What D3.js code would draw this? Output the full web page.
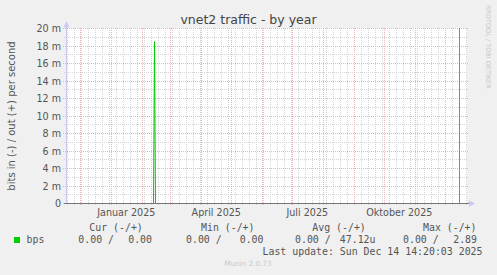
<!DOCTYPE html>
<html>
<head>
<meta charset="utf-8">
<script src="https://cdn.jsdelivr.net/npm/d3@7"></script>
<style>
  body { margin: 0; background: #f0f0f0; }
  svg { display: block; }
  text { white-space: pre; }
</style>
</head>
<body>
<div id="chart"></div>
<script>
// chart values
var yTicks = [0, 2, 4, 6, 8, 10, 12, 14, 16, 18, 20];          // in milli bits/s
var yTickLabels = ["0", "2 m", "4 m", "6 m", "8 m", "10 m", "12 m", "14 m", "16 m", "18 m", "20 m"];
var quarterDates = ["2025-01-01", "2025-04-01", "2025-07-01", "2025-10-01"];
var quarterLabels = ["Januar 2025", "April 2025", "Juli 2025", "Oktober 2025"];
var outDates = ["2025-02-12T05:00", "2025-02-13T05:00", "2025-02-14T05:00"];
var outValues = [0, 18.5, 0];                                   // milli bits/s
var nowDate = "2025-12-14T23:00";
var legendHeads = ["Cur (-/+)", "Min (-/+)", "Avg (-/+)", "Max (-/+)"];
var legendIn = ["0.00 /", "0.00 /", "0.00 /", "0.00 /"];
var legendOut = ["0.00", "0.00", "47.12u", "2.89"];

var W = 497, H = 275;
var parse = d3.utcParse("%Y-%m-%dT%H:%M");
var parseDay = d3.utcParse("%Y-%m-%d");

var svg = d3.select("#chart").append("svg")
  .attr("width", W).attr("height", H);

svg.append("rect").attr("width", W).attr("height", H).attr("fill", "#f0f0f0");

var x = d3.scaleUtc()
  .domain([parse("2024-11-17T17:00"), parse("2025-12-22T17:00")])
  .range([67, 467]);
var y = d3.scaleLinear().domain([0, 20]).range([203.5, 28.5]);

function px(v) { return Math.floor(v) + 0.5; }

// plot background
svg.append("rect")
  .attr("x", 67).attr("y", 28)
  .attr("width", 400).attr("height", 175)
  .attr("fill", "#ffffff");

var grid = svg.append("g");

// minor vertical grid (weekly)
var weeks = d3.utcMonday.range(x.domain()[0], x.domain()[1]);
grid.selectAll(".vminor")
  .data(weeks)
  .enter().append("line")
  .attr("x1", function(d) { return px(x(d)); })
  .attr("x2", function(d) { return px(x(d)); })
  .attr("y1", 28).attr("y2", 205)
  .attr("stroke", "#d4d4d4")
  .attr("stroke-dasharray", "1,1");

// minor horizontal grid (1 m)
grid.selectAll(".hminor")
  .data(d3.range(1, 20, 2))
  .enter().append("line")
  .attr("x1", 64).attr("x2", 467)
  .attr("y1", function(d) { return px(y(d)); })
  .attr("y2", function(d) { return px(y(d)); })
  .attr("stroke", "#d4d4d4")
  .attr("stroke-dasharray", "1,1");

// major vertical grid (months)
var months = d3.utcMonth.range(x.domain()[0], x.domain()[1]);
grid.selectAll(".vmajor")
  .data(months)
  .enter().append("line")
  .attr("x1", function(d) { return px(x(d)); })
  .attr("x2", function(d) { return px(x(d)); })
  .attr("y1", 28).attr("y2", 206)
  .attr("stroke", "#eeb0b0")
  .attr("stroke-dasharray", "1,1");

// major horizontal grid
grid.selectAll(".hmajor")
  .data(yTicks)
  .enter().append("line")
  .attr("x1", 63).attr("x2", 469)
  .attr("y1", function(d) { return px(y(d)); })
  .attr("y2", function(d) { return px(y(d)); })
  .attr("stroke", "#eeb0b0")
  .attr("stroke-dasharray", "1,1");

// y tick labels
svg.selectAll(".ylab")
  .data(yTicks)
  .enter().append("text")
  .attr("x", 61)
  .attr("y", function(d) { return px(y(d)) + 3.5; })
  .attr("text-anchor", "end")
  .attr("font-family", "DejaVu Sans")
  .attr("font-size", 9.6)
  .attr("fill", "#555")
  .text(function(d, i) { return yTickLabels[i]; });

// x labels, centred half a month after the quarter start
svg.selectAll(".xlab")
  .data(quarterDates)
  .enter().append("text")
  .attr("x", function(d) { return x(d3.utcDay.offset(parseDay(d), 15)); })
  .attr("y", 216)
  .attr("text-anchor", "middle")
  .attr("font-family", "DejaVu Sans")
  .attr("font-size", 9.6)
  .attr("fill", "#555")
  .text(function(d, i) { return quarterLabels[i]; });

// "now" line
svg.append("line")
  .attr("x1", px(x(parse(nowDate)))).attr("x2", px(x(parse(nowDate))))
  .attr("y1", 28).attr("y2", 203)
  .attr("stroke", "#888")
  .attr("stroke-width", 1);

// out series
var line = d3.line()
  .x(function(d, i) { return x(parse(outDates[i])); })
  .y(function(d) { return y(d); });

svg.append("path")
  .datum(outValues)
  .attr("d", line)
  .attr("fill", "none")
  .attr("stroke", "#00cc00")
  .attr("stroke-width", 1);

// axes
svg.append("line")
  .attr("x1", 66.5).attr("x2", 66.5).attr("y1", 26).attr("y2", 204)
  .attr("stroke", "#c8c8f0");
svg.append("line")
  .attr("x1", 64).attr("x2", 470).attr("y1", 203.5).attr("y2", 203.5)
  .attr("stroke", "#777");
svg.append("path")
  .attr("d", "M63.5,27.5 L66.5,21.5 L69.5,27.5 Z")
  .attr("fill", "#c8c8f0");
svg.append("path")
  .attr("d", "M469,200.5 L475,203.5 L469,206.5 Z")
  .attr("fill", "#c8c8f0");

// title
svg.append("text")
  .attr("x", 248.5).attr("y", 24)
  .attr("text-anchor", "middle")
  .attr("font-family", "DejaVu Sans")
  .attr("font-size", 12.5)
  .attr("fill", "#444")
  .text("vnet2 traffic - by year");

// y axis title
svg.append("text")
  .attr("transform", "translate(15,116) rotate(-90)")
  .attr("text-anchor", "middle")
  .attr("font-family", "DejaVu Sans")
  .attr("font-size", 10)
  .attr("fill", "#555")
  .text("bits in (-) / out (+) per second");

// watermark
svg.append("text")
  .attr("transform", "translate(486,5) rotate(90)")
  .attr("font-family", "DejaVu Sans")
  .attr("font-size", 6.5)
  .attr("fill", "#c8c8c8")
  .text("RRDTOOL / TOBI OETIKER");

// legend
var mono = "DejaVu Sans Mono";
var headX = [89.3, 201, 312.3, 423];
var inX = [78.3, 186, 295, 403];
var outX = [152, 263.5, 375.5, 477];

svg.selectAll(".lhead")
  .data(legendHeads)
  .enter().append("text")
  .attr("x", function(d, i) { return headX[i]; })
  .attr("y", 230.5)
  .attr("font-family", mono).attr("font-size", 9.9).attr("fill", "#555")
  .text(function(d) { return d; });

svg.selectAll(".lin")
  .data(legendIn)
  .enter().append("text")
  .attr("x", function(d, i) { return inX[i]; })
  .attr("y", 242.7)
  .attr("font-family", mono).attr("font-size", 9.9).attr("fill", "#555")
  .text(function(d) { return d; });

svg.selectAll(".lout")
  .data(legendOut)
  .enter().append("text")
  .attr("x", function(d, i) { return outX[i]; })
  .attr("y", 242.7)
  .attr("text-anchor", "end")
  .attr("font-family", mono).attr("font-size", 9.9).attr("fill", "#555")
  .text(function(d) { return d; });

svg.append("rect")
  .attr("x", 14).attr("y", 237).attr("width", 6).attr("height", 6)
  .attr("fill", "#00cc00");
svg.append("text")
  .attr("x", 26.5).attr("y", 242.7)
  .attr("font-family", mono).attr("font-size", 9.9).attr("fill", "#555")
  .text("bps");

svg.append("text")
  .attr("x", 482.5).attr("y", 254.5)
  .attr("text-anchor", "end")
  .attr("font-family", mono).attr("font-size", 9.9).attr("fill", "#555")
  .text("Last update: Sun Dec 14 14:20:03 2025");

svg.append("text")
  .attr("x", 248).attr("y", 266)
  .attr("text-anchor", "middle")
  .attr("font-family", "DejaVu Sans")
  .attr("font-size", 7.2)
  .attr("fill", "#c8c8c8")
  .text("Munin 2.0.73");
</script>
</body>
</html>
